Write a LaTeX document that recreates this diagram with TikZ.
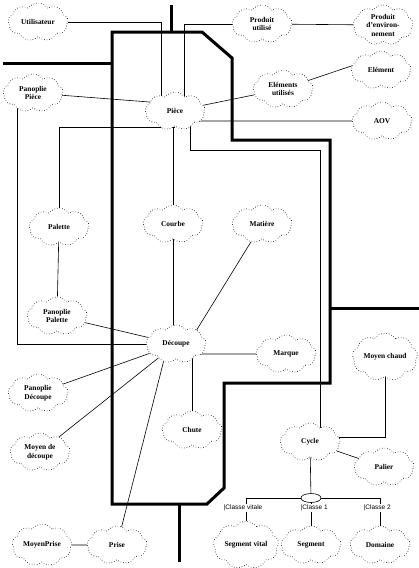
\documentclass[tikz,border=0pt]{standalone}
\usepackage{fontspec}
\setmainfont{Liberation Serif}
\newfontfamily\lblfont{Liberation Sans}
\usetikzlibrary{shapes.symbols,shapes.geometric,calc}
\pgfdeclarelayer{bg}
\pgfsetlayers{bg,main}
\begin{document}
\begin{tikzpicture}[x=1pt,y=-1pt,
  cl/.style={cloud, cloud puffs=9, cloud puff arc=110, aspect=1.6, draw, dotted,
    line width=0.6pt, fill=white, inner sep=0.5pt, minimum width=60pt, minimum height=38pt,
    align=center, font=\fontsize{7.4}{8.5}\selectfont\bfseries},
  conn/.style={line width=0.6pt},
  wall/.style={line width=3pt},
  cls/.style={font=\lblfont\fontsize{6.5}{7}\selectfont, inner sep=0.6pt, fill=white, anchor=west},
  sel/.style={ellipse, draw, line width=0.6pt, fill=white, minimum width=20pt, minimum height=9pt, inner sep=0pt}]
\useasboundingbox (0,0) rectangle (419,568);
% clouds
\node[cl] (util)    at (38,22)   {Utilisateur};
\node[cl] (prodU)   at (262,24)  {Produit\\utilisé};
\node[cl] (prodE)   at (383,25)  {Produit\\d'environ-\\nement};
\node[cl] (elem)    at (381,70)  {Elément};
\node[cl] (elemU)   at (283,89)  {Eléments\\utilisés};
\node[cl] (panP)    at (33,93)   {Panoplie\\Pièce};
\node[cl] (piece)   at (175,111) {Pièce};
\node[cl] (aov)     at (382,121) {AOV};
\node[cl] (palette) at (59,227)  {Palette};
\node[cl] (courbe)  at (173,224) {Courbe};
\node[cl] (matiere) at (262,224) {Matière};
\node[cl] (panPal)  at (57,316)  {Panoplie\\Palette};
\node[cl] (decoupe) at (176,344) {Découpe};
\node[cl] (marque)  at (286,354) {Marque};
\node[cl] (moyenC)  at (385,357) {Moyen chaud};
\node[cl] (panD)    at (38,393)  {Panoplie\\Découpe};
\node[cl] (moyenD)  at (40,452)  {Moyen de\\découpe};
\node[cl] (chute)   at (192,430) {Chute};
\node[cl] (cycle)   at (310,442) {Cycle};
\node[cl] (palier)  at (384,467) {Palier};
\node[cl] (moyenP)  at (42,545)  {MoyenPrise};
\node[cl] (prise)   at (117,545) {Prise};
\node[cl] (segV)    at (246,545) {Segment vital};
\node[cl] (seg)     at (311,545) {Segment};
\node[cl] (dom)     at (380,545) {Domaine};
\node[sel] (ell) at (311,498) {};
% role labels
\node[cls] (lv) at (223,508) {|Classe vitale};
\node[cls] (l1) at (300,508) {|Classe 1};
\node[cls] (l2) at (363,508) {|Classe 2};
\coordinate (bendA) at (320,150);
\begin{pgfonlayer}{bg}
  % walls
  \draw[wall] (112,32) -- (202,32) -- (232,58) -- (232,140) -- (330,140) -- (330,383)
     -- (224,383) -- (224,488) -- (207,504) -- (112,504) -- cycle;
  \draw[wall] (171,5) -- (171,32);
  \draw[wall] (3,63) -- (112,63);
  \draw[wall] (330,308) -- (419,308);
  \draw[wall] (179,504) -- (179,562);
  % connectors
  \draw[conn] (util) -| ($(piece)+(-14,0)$);
  \draw[conn] (prodU) -| ($(piece)+(9,0)$);
  \draw[conn] (prodU) -- (prodE);
  \draw[conn] (panP) -- ($(piece)+(0,-7)$);
  \draw[conn] ($(panP)+(-16,0)$) |- (decoupe);
  \draw[conn] ($(piece)+(0,16)$) -| (palette);
  \draw[conn] (courbe) -- (courbe |- piece);
  \draw[conn] ($(piece)+(15,0)$) |- (bendA) -- (bendA |- cycle);
  \draw[conn] (aov) -- (aov -| piece);
  \draw[conn] (piece) -- (elemU);
  \draw[conn] (elemU) -- ($(elem)+(0,-14)$);
  \draw[conn] (palette) -- (panPal);
  \draw[conn] (panPal) -- (decoupe);
  \draw[conn] (courbe) -- (courbe |- decoupe);
  \draw[conn] (matiere) -- ($(decoupe)+(12,0)$);
  \draw[conn] (marque) -- (marque -| decoupe);
  \draw[conn] (panD) -- (decoupe);
  \draw[conn] (moyenD) -- (decoupe);
  \draw[conn] (chute) -- (chute |- decoupe);
  \draw[conn] (prise) -- ($(decoupe)+(-8,0)$);
  \draw[conn] (moyenP) -- (prise);
  \draw[conn] (moyenC) |- ($(cycle)+(0,-5)$);
  \draw[conn] (cycle) -- (palier);
  \draw[conn] (cycle) -- (ell);
  \draw[conn] (segV) |- (ell) -| (dom);
  \draw[conn] (ell) -- (seg);
\end{pgfonlayer}
\end{tikzpicture}
\end{document}
